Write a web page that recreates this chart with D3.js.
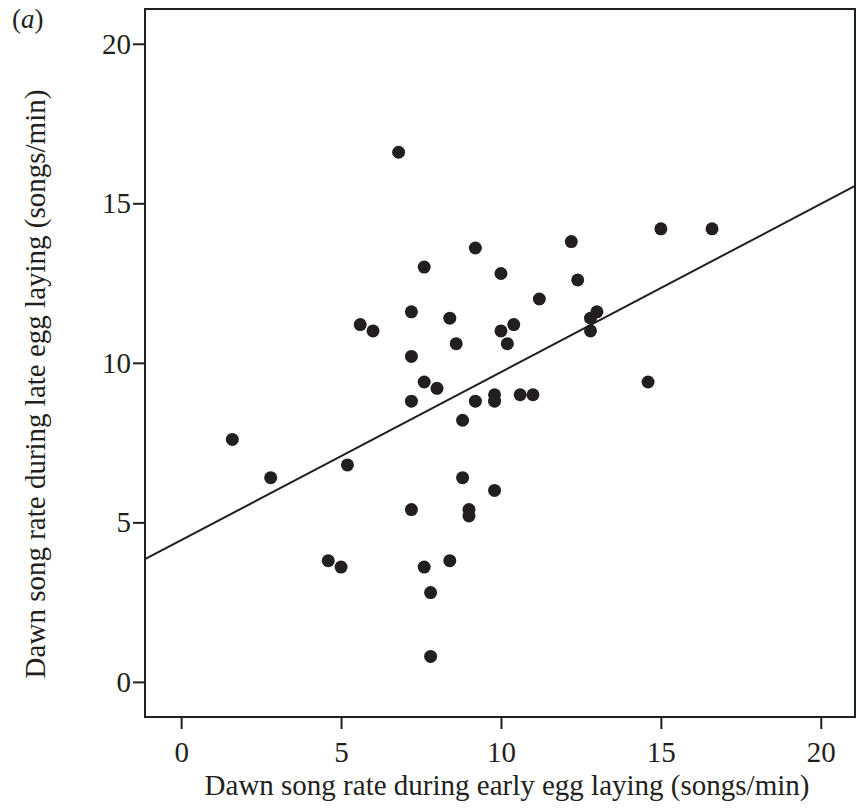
<!DOCTYPE html>
<html>
<head>
<meta charset="utf-8">
<script src="https://cdn.jsdelivr.net/npm/d3@7"></script>
<style>
  body { margin: 0; background: #fff; }
  svg { display: block; }
</style>
</head>
<body>
<div id="chart"></div>
<script>
// early egg laying (x) vs late egg laying (y), songs/min
const earlyRate = [1.6, 2.8, 4.6, 5.0, 5.2, 5.6, 6.0, 6.8, 7.2, 7.2, 7.2, 7.2, 7.6, 7.6, 7.6,
  7.8, 7.8, 8.0, 8.4, 8.4, 8.6, 8.8, 8.8, 9.0, 9.0, 9.2, 9.2, 9.8, 9.8, 9.8,
  10.0, 10.0, 10.2, 10.4, 10.6, 11.0, 11.2, 12.2, 12.4, 12.8, 13.0, 12.8, 14.6, 15.0, 16.6];
const lateRate = [7.6, 6.4, 3.8, 3.6, 6.8, 11.2, 11.0, 16.6, 11.6, 10.2, 8.8, 5.4, 13.0, 9.4, 3.6,
  2.8, 0.8, 9.2, 11.4, 3.8, 10.6, 8.2, 6.4, 5.4, 5.2, 8.8, 13.6, 9.0, 8.8, 6.0,
  12.8, 11.0, 10.6, 11.2, 9.0, 9.0, 12.0, 13.8, 12.6, 11.4, 11.6, 11.0, 9.4, 14.2, 14.2];
const xTicks = [0, 5, 10, 15, 20];
const yTicks = [0, 5, 10, 15, 20];
const fitIntercept = 4.44;
const fitSlope = 0.527;

const width = 856, height = 809;
const plotLeft = 145, plotRight = 855, plotTop = 9, plotBottom = 717;
const serif = "'Liberation Serif', 'Times New Roman', serif";

const svg = d3.select("#chart").append("svg")
  .attr("width", width).attr("height", height)
  .style("font-family", serif);

const x = d3.scaleLinear().domain([-1.13, 21.07]).range([plotLeft, plotRight]);
const y = d3.scaleLinear().domain([-1.1, 21.09]).range([plotBottom, plotTop]);

// box
svg.append("rect")
  .attr("x", plotLeft).attr("y", plotTop)
  .attr("width", plotRight - plotLeft).attr("height", plotBottom - plotTop)
  .attr("fill", "none").attr("stroke", "#231f20").attr("stroke-width", 2);

// axes
const xAxis = svg.append("g")
  .attr("transform", `translate(0,${plotBottom})`)
  .call(d3.axisBottom(x).tickValues(xTicks).tickSize(12).tickPadding(12).tickSizeOuter(0));
const yAxis = svg.append("g")
  .attr("transform", `translate(${plotLeft},0)`)
  .call(d3.axisLeft(y).tickValues(yTicks).tickSize(12).tickPadding(2).tickSizeOuter(0));

[xAxis, yAxis].forEach(g => {
  g.select(".domain").remove();
  g.selectAll(".tick line").attr("stroke", "#231f20").attr("stroke-width", 2);
  g.selectAll(".tick text")
    .attr("fill", "#231f20")
    .style("font-family", serif)
    .style("font-size", "29px");
});

// regression line, clipped to plot box
svg.append("clipPath").attr("id", "plot-clip")
  .append("rect").attr("x", plotLeft).attr("y", plotTop)
  .attr("width", plotRight - plotLeft).attr("height", plotBottom - plotTop);

const xd = x.domain();
svg.append("line")
  .attr("clip-path", "url(#plot-clip)")
  .attr("x1", x(xd[0])).attr("y1", y(fitIntercept + fitSlope * xd[0]))
  .attr("x2", x(xd[1])).attr("y2", y(fitIntercept + fitSlope * xd[1]))
  .attr("stroke", "#231f20").attr("stroke-width", 2);

// points
svg.append("g").selectAll("circle")
  .data(earlyRate.map((v, i) => [v, lateRate[i]]))
  .join("circle")
  .attr("cx", d => x(d[0]))
  .attr("cy", d => y(d[1]))
  .attr("r", 6.5)
  .attr("fill", "#231f20");

// axis titles
svg.append("text")
  .attr("x", 507).attr("y", 795)
  .attr("text-anchor", "middle")
  .attr("fill", "#231f20")
  .style("font-size", "29px")
  .text("Dawn song rate during early egg laying (songs/min)");

svg.append("text")
  .attr("transform", `translate(45,384) rotate(-90)`)
  .attr("text-anchor", "middle")
  .attr("fill", "#231f20")
  .style("font-size", "29px")
  .text("Dawn song rate during late egg laying (songs/min)");

// panel label
const panel = svg.append("text")
  .attr("x", 12).attr("y", 28)
  .attr("fill", "#231f20")
  .style("font-size", "27px");
panel.append("tspan").text("(");
panel.append("tspan").style("font-style", "italic").text("a");
panel.append("tspan").text(")");
</script>
</body>
</html>
